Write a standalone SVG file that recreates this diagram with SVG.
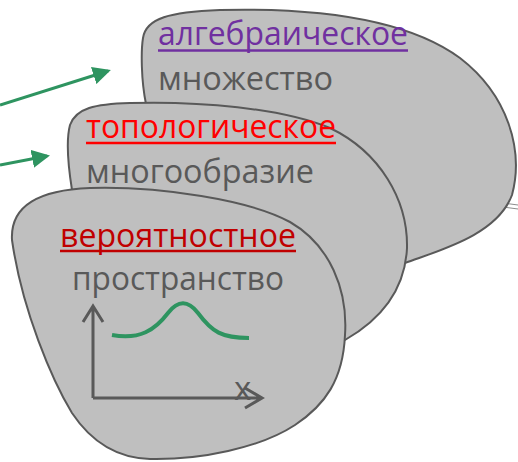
<svg xmlns="http://www.w3.org/2000/svg" width="518" height="462" viewBox="0 0 518 462">
<style>
.blob{fill:#BFBFBF;stroke:#595959;stroke-width:2}
.t{font-family:"Open Sans","Noto Sans","Liberation Sans",sans-serif;font-size:33px}
.g{fill:#595959}
.ul{stroke-width:2.5}
.arr{stroke:#2E9460;stroke-width:3;fill:none}
.ax{stroke:#595959;stroke-width:3;fill:none}
</style>
<defs>
<marker id="ga" markerWidth="6" markerHeight="6" refX="5" refY="3" orient="auto" markerUnits="strokeWidth">
<path d="M0,0 L6,3 L0,6 Z" fill="#2E9460"/>
</marker>
</defs>
<g id="connectors">
<line class="arr" x1="0" y1="105" x2="108" y2="71" marker-end="url(#ga)"/>
<line class="arr" x1="0" y1="165" x2="47" y2="156" marker-end="url(#ga)"/>
<line x1="503" y1="203" x2="518" y2="205" stroke="#8C8C8C" stroke-width="1"/>
<line x1="503" y1="207" x2="518" y2="209" stroke="#8C8C8C" stroke-width="1"/>
</g>
<g id="algebraic">
<path class="blob" d="M146,104 C141,80 141,50 143,38 C146,18 170,12 220,10 C300,8 400,14 460,58 C508,95 524,150 512,195 C497,235 440,250 405,263 L380,250 L200,140 Z"/>
<text class="t" x="158" y="45" fill="#7030A0" textLength="250" lengthAdjust="spacingAndGlyphs">алгебраическое</text>
<line class="ul" x1="158" y1="50.5" x2="408" y2="50.5" stroke="#7030A0"/>
<text class="t g" x="158" y="90" textLength="175" lengthAdjust="spacingAndGlyphs">множество</text>
</g>
<g id="topological">
<path class="blob" d="M72,190 C68,165 66,140 70,125 C76,108 95,104 130,103 C200,101 280,108 330,128 C380,152 408,200 407,248 C405,290 380,320 345,340 L250,300 L100,200 Z"/>
<text class="t" x="86" y="138" fill="#FF0000" textLength="250" lengthAdjust="spacingAndGlyphs">топологическое</text>
<line class="ul" x1="86" y1="143" x2="336" y2="143" stroke="#FF0000"/>
<text class="t g" x="86" y="183" textLength="228" lengthAdjust="spacingAndGlyphs">многообразие</text>
</g>
<g id="probabilistic">
<path class="blob" d="M12,240 C10,205 40,190 90,188 C160,186 250,200 290,222 C330,245 348,290 345,335 C343,380 325,405 295,425 C260,448 200,460 150,459 C115,458 90,440 72,413 C52,380 22,310 12,240 Z"/>
<text class="t" x="60" y="247" fill="#C00000" textLength="236" lengthAdjust="spacingAndGlyphs">вероятностное</text>
<line class="ul" x1="60" y1="251" x2="296" y2="251" stroke="#C00000"/>
<text class="t g" x="72" y="290" textLength="212" lengthAdjust="spacingAndGlyphs">пространство</text>
<path class="ax" d="M93,398 L93,306 M83,322 L93,306 L103,322 M93,398 L262,398 M245,388 L262,398 L245,408"/>
<path d="M112,335 C140,340 155,330 168,313 C178,300 188,300 198,313 C212,332 222,338 249,338" fill="none" stroke="#2E9460" stroke-width="4"/>
<text class="t g" x="234" y="400" font-size="41">x</text>
</g>
</svg>
